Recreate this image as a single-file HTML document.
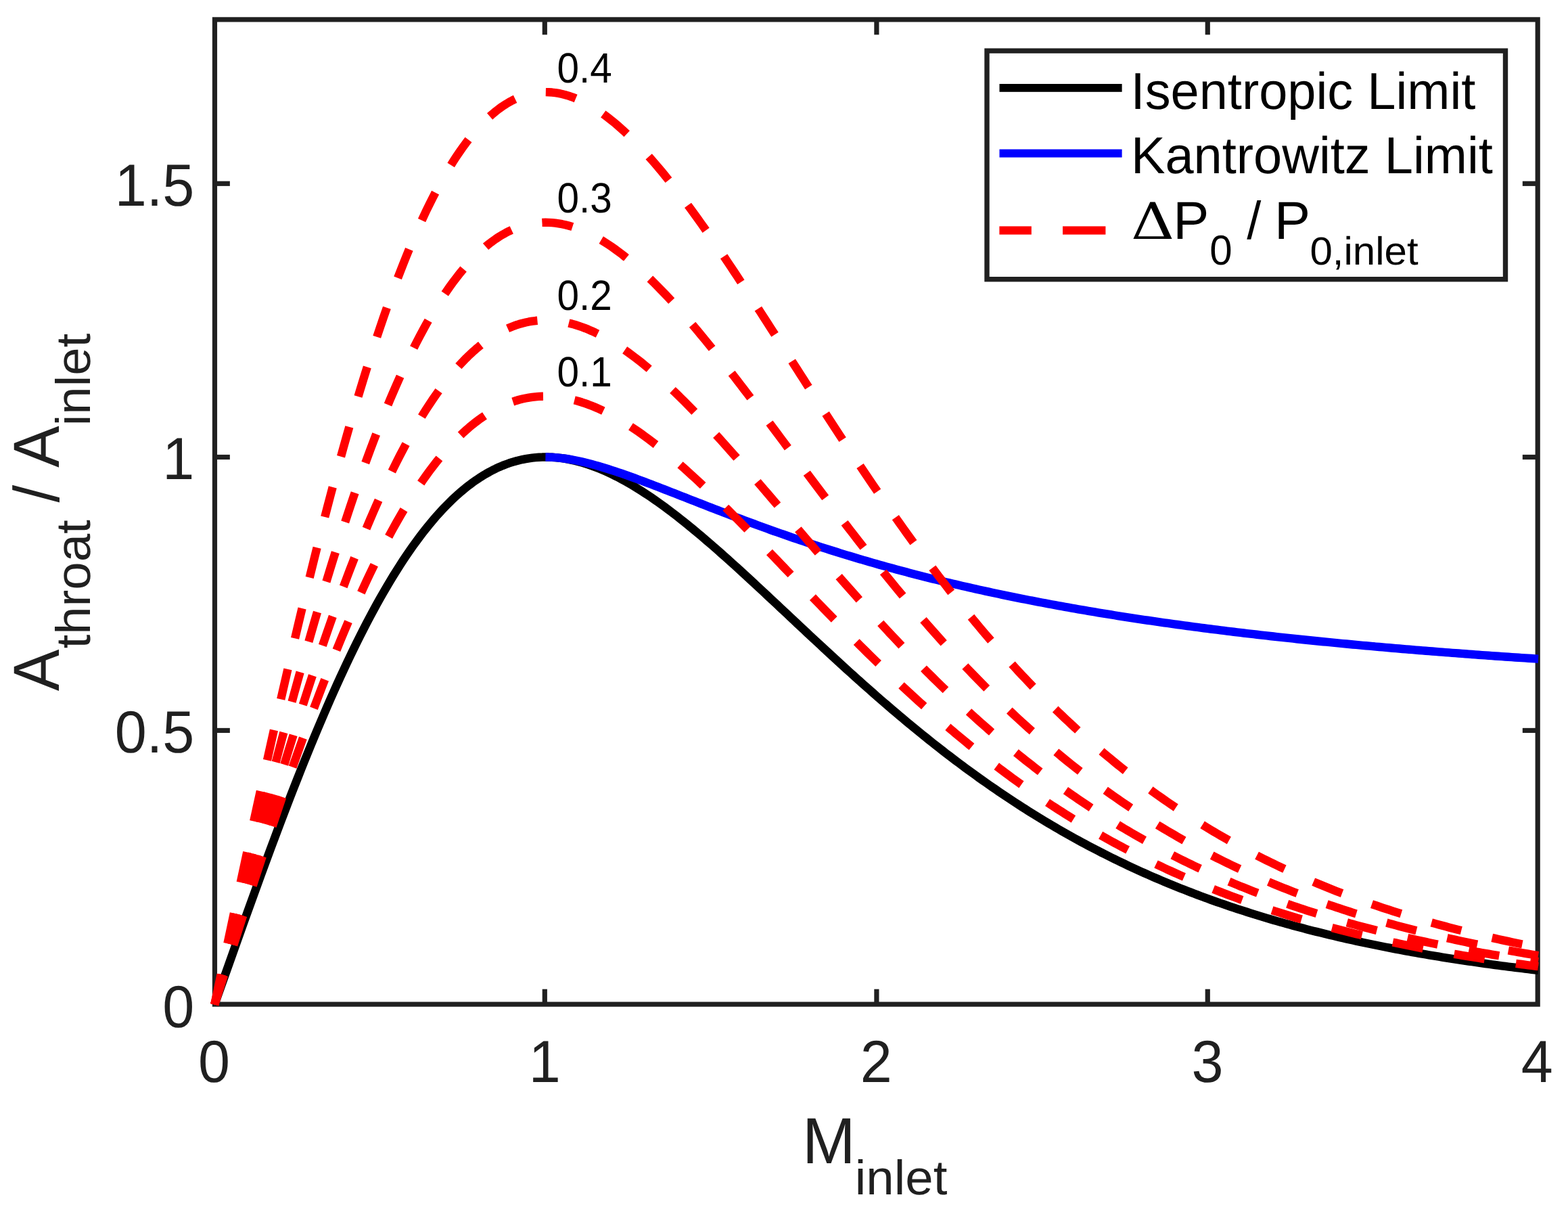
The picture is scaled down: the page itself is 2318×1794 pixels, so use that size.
<!DOCTYPE html>
<html lang="en"><head><meta charset="utf-8"><title>Inlet contraction limits</title>
<style>html,body{margin:0;padding:0;background:#fff;}body{width:2318px;height:1794px;overflow:hidden;}svg{display:block;}text{font-family:"Liberation Sans",Arial,Helvetica,sans-serif;font-kerning:none;text-rendering:geometricPrecision;white-space:pre;}</style>
</head><body>
<svg width="2318" height="1794" viewBox="0 0 2318 1794" role="img" aria-label="Throat to inlet area ratio versus inlet Mach number">
<rect x="0" y="0" width="2318" height="1794" fill="#ffffff"/>
<g stroke="#202020" stroke-width="7.20" fill="none" stroke-linecap="butt">
<rect x="317.45" y="28.90" width="1955.75" height="1455.20"/>
<line x1="805.30" y1="1484.10" x2="805.30" y2="1461.70"/>
<line x1="805.30" y1="28.90" x2="805.30" y2="51.30"/>
<line x1="1295.90" y1="1484.10" x2="1295.90" y2="1461.70"/>
<line x1="1295.90" y1="28.90" x2="1295.90" y2="51.30"/>
<line x1="1785.25" y1="1484.10" x2="1785.25" y2="1461.70"/>
<line x1="1785.25" y1="28.90" x2="1785.25" y2="51.30"/>
<line x1="317.45" y1="1079.45" x2="339.85" y2="1079.45"/>
<line x1="2273.20" y1="1079.45" x2="2250.80" y2="1079.45"/>
<line x1="317.45" y1="675.50" x2="339.85" y2="675.50"/>
<line x1="2273.20" y1="675.50" x2="2250.80" y2="675.50"/>
<line x1="317.45" y1="271.30" x2="339.85" y2="271.30"/>
<line x1="2273.20" y1="271.30" x2="2250.80" y2="271.30"/>
</g>
<g fill="none" stroke-width="12.40" stroke-linejoin="round" stroke-linecap="butt">
<path stroke="#000000" d="M317.20 1484.60 L322.09 1470.78 L326.98 1456.96 L331.88 1443.15 L336.77 1429.35 L341.66 1415.57 L346.55 1401.82 L351.44 1388.09 L356.34 1374.40 L361.23 1360.75 L366.12 1347.14 L371.01 1333.57 L375.90 1320.06 L380.80 1306.61 L385.69 1293.21 L390.58 1279.88 L395.47 1266.62 L400.36 1253.43 L405.26 1240.33 L410.15 1227.30 L415.04 1214.36 L419.93 1201.51 L424.82 1188.76 L429.72 1176.11 L434.61 1163.55 L439.50 1151.11 L444.39 1138.78 L449.28 1126.56 L454.18 1114.46 L459.07 1102.48 L463.96 1090.62 L468.85 1078.89 L473.74 1067.30 L478.64 1055.84 L483.53 1044.52 L488.42 1033.33 L493.31 1022.30 L498.20 1011.41 L503.10 1000.67 L507.99 990.08 L512.88 979.64 L517.77 969.37 L522.66 959.25 L527.56 949.29 L532.45 939.50 L537.34 929.88 L542.23 920.42 L547.12 911.14 L552.02 902.02 L556.91 893.08 L561.80 884.31 L566.69 875.72 L571.58 867.31 L576.48 859.08 L581.37 851.02 L586.26 843.15 L591.15 835.46 L596.04 827.95 L600.94 820.63 L605.83 813.49 L610.72 806.53 L615.61 799.76 L620.50 793.18 L625.40 786.78 L630.29 780.57 L635.18 774.54 L640.07 768.70 L644.96 763.05 L649.86 757.58 L654.75 752.30 L659.64 747.20 L664.53 742.29 L669.42 737.56 L674.32 733.02 L679.21 728.66 L684.10 724.48 L688.99 720.48 L693.88 716.66 L698.78 713.02 L703.67 709.56 L708.56 706.28 L713.45 703.17 L718.34 700.24 L723.24 697.48 L728.13 694.89 L733.02 692.47 L737.91 690.22 L742.80 688.14 L747.70 686.22 L752.59 684.47 L757.48 682.88 L762.37 681.45 L767.26 680.18 L772.16 679.07 L777.05 678.11 L781.94 677.30 L786.83 676.65 L791.72 676.14 L796.62 675.78 L801.51 675.57 L806.40 675.50 L811.29 675.57 L816.18 675.78 L821.08 676.12 L825.97 676.60 L830.86 677.21 L835.75 677.95 L840.64 678.82 L845.54 679.82 L850.43 680.93 L855.32 682.17 L860.21 683.53 L865.10 685.00 L870.00 686.58 L874.89 688.28 L879.78 690.08 L884.67 692.00 L889.56 694.01 L894.46 696.13 L899.35 698.35 L904.24 700.67 L909.13 703.08 L914.02 705.58 L918.92 708.17 L923.81 710.86 L928.70 713.63 L933.59 716.48 L938.48 719.41 L943.38 722.42 L948.27 725.51 L953.16 728.68 L958.05 731.91 L962.94 735.22 L967.84 738.60 L972.73 742.04 L977.62 745.54 L982.51 749.11 L987.40 752.73 L992.30 756.42 L997.19 760.16 L1002.08 763.95 L1006.97 767.80 L1011.86 771.69 L1016.76 775.63 L1021.65 779.62 L1026.54 783.65 L1031.43 787.72 L1036.32 791.83 L1041.22 795.98 L1046.11 800.17 L1051.00 804.39 L1055.89 808.65 L1060.78 812.93 L1065.68 817.25 L1070.57 821.59 L1075.46 825.96 L1080.35 830.35 L1085.24 834.76 L1090.14 839.20 L1095.03 843.66 L1099.92 848.13 L1104.81 852.63 L1109.70 857.13 L1114.60 861.65 L1119.49 866.19 L1124.38 870.73 L1129.27 875.29 L1134.16 879.85 L1139.06 884.42 L1143.95 889.00 L1148.84 893.58 L1153.73 898.17 L1158.62 902.75 L1163.52 907.34 L1168.41 911.93 L1173.30 916.52 L1178.19 921.11 L1183.08 925.69 L1187.98 930.27 L1192.87 934.85 L1197.76 939.41 L1202.65 943.98 L1207.54 948.53 L1212.44 953.08 L1217.33 957.61 L1222.22 962.14 L1227.11 966.65 L1232.00 971.16 L1236.90 975.65 L1241.79 980.12 L1246.68 984.59 L1251.57 989.04 L1256.46 993.47 L1261.36 997.89 L1266.25 1002.29 L1271.14 1006.67 L1276.03 1011.03 L1280.92 1015.38 L1285.82 1019.71 L1290.71 1024.02 L1295.60 1028.30 L1300.49 1032.57 L1305.38 1036.82 L1310.28 1041.04 L1315.17 1045.25 L1320.06 1049.43 L1324.95 1053.58 L1329.84 1057.72 L1334.74 1061.83 L1339.63 1065.92 L1344.52 1069.98 L1349.41 1074.02 L1354.30 1078.04 L1359.20 1082.03 L1364.09 1086.00 L1368.98 1089.93 L1373.87 1093.85 L1378.76 1097.74 L1383.66 1101.60 L1388.55 1105.43 L1393.44 1109.24 L1398.33 1113.03 L1403.22 1116.78 L1408.12 1120.51 L1413.01 1124.21 L1417.90 1127.89 L1422.79 1131.53 L1427.68 1135.15 L1432.58 1138.75 L1437.47 1142.31 L1442.36 1145.85 L1447.25 1149.36 L1452.14 1152.84 L1457.04 1156.29 L1461.93 1159.72 L1466.82 1163.11 L1471.71 1166.48 L1476.60 1169.83 L1481.50 1173.14 L1486.39 1176.43 L1491.28 1179.68 L1496.17 1182.92 L1501.06 1186.12 L1505.96 1189.29 L1510.85 1192.44 L1515.74 1195.56 L1520.63 1198.65 L1525.52 1201.72 L1530.42 1204.75 L1535.31 1207.76 L1540.20 1210.74 L1545.09 1213.70 L1549.98 1216.62 L1554.88 1219.53 L1559.77 1222.40 L1564.66 1225.25 L1569.55 1228.07 L1574.44 1230.86 L1579.34 1233.62 L1584.23 1236.36 L1589.12 1239.08 L1594.01 1241.77 L1598.90 1244.43 L1603.80 1247.06 L1608.69 1249.67 L1613.58 1252.26 L1618.47 1254.82 L1623.36 1257.35 L1628.26 1259.86 L1633.15 1262.34 L1638.04 1264.80 L1642.93 1267.23 L1647.82 1269.64 L1652.72 1272.03 L1657.61 1274.39 L1662.50 1276.72 L1667.39 1279.04 L1672.28 1281.32 L1677.18 1283.59 L1682.07 1285.83 L1686.96 1288.05 L1691.85 1290.24 L1696.74 1292.42 L1701.64 1294.57 L1706.53 1296.69 L1711.42 1298.80 L1716.31 1300.88 L1721.20 1302.94 L1726.10 1304.98 L1730.99 1306.99 L1735.88 1308.99 L1740.77 1310.96 L1745.66 1312.91 L1750.56 1314.84 L1755.45 1316.76 L1760.34 1318.65 L1765.23 1320.51 L1770.12 1322.36 L1775.02 1324.19 L1779.91 1326.00 L1784.80 1327.79 L1789.69 1329.56 L1794.58 1331.31 L1799.48 1333.04 L1804.37 1334.75 L1809.26 1336.45 L1814.15 1338.12 L1819.04 1339.78 L1823.94 1341.41 L1828.83 1343.03 L1833.72 1344.63 L1838.61 1346.22 L1843.50 1347.78 L1848.40 1349.33 L1853.29 1350.86 L1858.18 1352.38 L1863.07 1353.87 L1867.96 1355.35 L1872.86 1356.82 L1877.75 1358.26 L1882.64 1359.69 L1887.53 1361.11 L1892.42 1362.50 L1897.32 1363.89 L1902.21 1365.25 L1907.10 1366.60 L1911.99 1367.94 L1916.88 1369.26 L1921.78 1370.57 L1926.67 1371.86 L1931.56 1373.13 L1936.45 1374.39 L1941.34 1375.64 L1946.24 1376.87 L1951.13 1378.09 L1956.02 1379.30 L1960.91 1380.49 L1965.80 1381.66 L1970.70 1382.83 L1975.59 1383.98 L1980.48 1385.11 L1985.37 1386.24 L1990.26 1387.35 L1995.16 1388.45 L2000.05 1389.53 L2004.94 1390.60 L2009.83 1391.66 L2014.72 1392.71 L2019.62 1393.75 L2024.51 1394.77 L2029.40 1395.78 L2034.29 1396.78 L2039.18 1397.77 L2044.08 1398.75 L2048.97 1399.72 L2053.86 1400.67 L2058.75 1401.61 L2063.64 1402.55 L2068.54 1403.47 L2073.43 1404.38 L2078.32 1405.28 L2083.21 1406.17 L2088.10 1407.05 L2093.00 1407.92 L2097.89 1408.78 L2102.78 1409.63 L2107.67 1410.47 L2112.56 1411.30 L2117.46 1412.12 L2122.35 1412.93 L2127.24 1413.73 L2132.13 1414.52 L2137.02 1415.30 L2141.92 1416.07 L2146.81 1416.84 L2151.70 1417.59 L2156.59 1418.34 L2161.48 1419.08 L2166.38 1419.80 L2171.27 1420.52 L2176.16 1421.24 L2181.05 1421.94 L2185.94 1422.64 L2190.84 1423.32 L2195.73 1424.00 L2200.62 1424.67 L2205.51 1425.34 L2210.40 1425.99 L2215.30 1426.64 L2220.19 1427.28 L2225.08 1427.92 L2229.97 1428.54 L2234.86 1429.16 L2239.76 1429.77 L2244.65 1430.37 L2249.54 1430.97 L2254.43 1431.56 L2259.32 1432.15 L2264.22 1432.72 L2269.11 1433.29 L2274.00 1433.85"/>
<path stroke="#0000ff" d="M806.40 675.50 L811.29 675.57 L816.18 675.77 L821.08 676.10 L825.97 676.54 L830.86 677.09 L835.75 677.75 L840.64 678.50 L845.54 679.35 L850.43 680.28 L855.32 681.29 L860.21 682.38 L865.10 683.53 L870.00 684.75 L874.89 686.04 L879.78 687.38 L884.67 688.77 L889.56 690.21 L894.46 691.70 L899.35 693.23 L904.24 694.80 L909.13 696.41 L914.02 698.05 L918.92 699.73 L923.81 701.43 L928.70 703.16 L933.59 704.91 L938.48 706.69 L943.38 708.48 L948.27 710.30 L953.16 712.13 L958.05 713.97 L962.94 715.83 L967.84 717.70 L972.73 719.58 L977.62 721.47 L982.51 723.36 L987.40 725.26 L992.30 727.17 L997.19 729.08 L1002.08 731.00 L1006.97 732.91 L1011.86 734.83 L1016.76 736.75 L1021.65 738.66 L1026.54 740.58 L1031.43 742.49 L1036.32 744.40 L1041.22 746.31 L1046.11 748.21 L1051.00 750.11 L1055.89 752.01 L1060.78 753.89 L1065.68 755.78 L1070.57 757.65 L1075.46 759.52 L1080.35 761.38 L1085.24 763.24 L1090.14 765.08 L1095.03 766.92 L1099.92 768.75 L1104.81 770.57 L1109.70 772.38 L1114.60 774.18 L1119.49 775.98 L1124.38 777.76 L1129.27 779.53 L1134.16 781.29 L1139.06 783.05 L1143.95 784.79 L1148.84 786.52 L1153.73 788.24 L1158.62 789.95 L1163.52 791.65 L1168.41 793.34 L1173.30 795.02 L1178.19 796.68 L1183.08 798.34 L1187.98 799.98 L1192.87 801.61 L1197.76 803.23 L1202.65 804.84 L1207.54 806.44 L1212.44 808.03 L1217.33 809.61 L1222.22 811.17 L1227.11 812.72 L1232.00 814.26 L1236.90 815.79 L1241.79 817.31 L1246.68 818.82 L1251.57 820.32 L1256.46 821.80 L1261.36 823.28 L1266.25 824.74 L1271.14 826.19 L1276.03 827.63 L1280.92 829.06 L1285.82 830.48 L1290.71 831.88 L1295.60 833.28 L1300.49 834.66 L1305.38 836.04 L1310.28 837.40 L1315.17 838.75 L1320.06 840.10 L1324.95 841.43 L1329.84 842.75 L1334.74 844.06 L1339.63 845.36 L1344.52 846.65 L1349.41 847.93 L1354.30 849.20 L1359.20 850.45 L1364.09 851.70 L1368.98 852.94 L1373.87 854.17 L1378.76 855.39 L1383.66 856.60 L1388.55 857.80 L1393.44 858.99 L1398.33 860.17 L1403.22 861.34 L1408.12 862.50 L1413.01 863.65 L1417.90 864.79 L1422.79 865.92 L1427.68 867.05 L1432.58 868.16 L1437.47 869.27 L1442.36 870.36 L1447.25 871.45 L1452.14 872.53 L1457.04 873.60 L1461.93 874.66 L1466.82 875.71 L1471.71 876.76 L1476.60 877.79 L1481.50 878.82 L1486.39 879.84 L1491.28 880.85 L1496.17 881.85 L1501.06 882.85 L1505.96 883.84 L1510.85 884.81 L1515.74 885.78 L1520.63 886.75 L1525.52 887.70 L1530.42 888.65 L1535.31 889.59 L1540.20 890.52 L1545.09 891.45 L1549.98 892.36 L1554.88 893.27 L1559.77 894.18 L1564.66 895.07 L1569.55 895.96 L1574.44 896.84 L1579.34 897.72 L1584.23 898.58 L1589.12 899.44 L1594.01 900.30 L1598.90 901.14 L1603.80 901.98 L1608.69 902.82 L1613.58 903.64 L1618.47 904.46 L1623.36 905.28 L1628.26 906.09 L1633.15 906.89 L1638.04 907.68 L1642.93 908.47 L1647.82 909.25 L1652.72 910.03 L1657.61 910.80 L1662.50 911.56 L1667.39 912.32 L1672.28 913.07 L1677.18 913.82 L1682.07 914.56 L1686.96 915.29 L1691.85 916.02 L1696.74 916.75 L1701.64 917.46 L1706.53 918.18 L1711.42 918.88 L1716.31 919.58 L1721.20 920.28 L1726.10 920.97 L1730.99 921.66 L1735.88 922.34 L1740.77 923.01 L1745.66 923.68 L1750.56 924.35 L1755.45 925.01 L1760.34 925.66 L1765.23 926.31 L1770.12 926.96 L1775.02 927.59 L1779.91 928.23 L1784.80 928.86 L1789.69 929.49 L1794.58 930.11 L1799.48 930.72 L1804.37 931.33 L1809.26 931.94 L1814.15 932.54 L1819.04 933.14 L1823.94 933.74 L1828.83 934.32 L1833.72 934.91 L1838.61 935.49 L1843.50 936.07 L1848.40 936.64 L1853.29 937.21 L1858.18 937.77 L1863.07 938.33 L1867.96 938.88 L1872.86 939.44 L1877.75 939.98 L1882.64 940.53 L1887.53 941.06 L1892.42 941.60 L1897.32 942.13 L1902.21 942.66 L1907.10 943.18 L1911.99 943.70 L1916.88 944.22 L1921.78 944.73 L1926.67 945.24 L1931.56 945.75 L1936.45 946.25 L1941.34 946.75 L1946.24 947.24 L1951.13 947.73 L1956.02 948.22 L1960.91 948.70 L1965.80 949.18 L1970.70 949.66 L1975.59 950.14 L1980.48 950.61 L1985.37 951.07 L1990.26 951.54 L1995.16 952.00 L2000.05 952.46 L2004.94 952.91 L2009.83 953.36 L2014.72 953.81 L2019.62 954.25 L2024.51 954.70 L2029.40 955.13 L2034.29 955.57 L2039.18 956.00 L2044.08 956.43 L2048.97 956.86 L2053.86 957.28 L2058.75 957.70 L2063.64 958.12 L2068.54 958.54 L2073.43 958.95 L2078.32 959.36 L2083.21 959.77 L2088.10 960.17 L2093.00 960.57 L2097.89 960.97 L2102.78 961.37 L2107.67 961.76 L2112.56 962.15 L2117.46 962.54 L2122.35 962.92 L2127.24 963.31 L2132.13 963.69 L2137.02 964.06 L2141.92 964.44 L2146.81 964.81 L2151.70 965.18 L2156.59 965.55 L2161.48 965.92 L2166.38 966.28 L2171.27 966.64 L2176.16 967.00 L2181.05 967.35 L2185.94 967.71 L2190.84 968.06 L2195.73 968.41 L2200.62 968.75 L2205.51 969.10 L2210.40 969.44 L2215.30 969.78 L2220.19 970.12 L2225.08 970.45 L2229.97 970.79 L2234.86 971.12 L2239.76 971.45 L2244.65 971.78 L2249.54 972.10 L2254.43 972.42 L2259.32 972.74 L2264.22 973.06 L2269.11 973.38 L2274.00 973.69"/>
<path stroke="#ff0000" stroke-dasharray="45.60 46.76" d="M317.20 1484.60 L322.09 1469.24 L326.98 1453.88 L331.88 1438.54 L336.77 1423.21 L341.66 1407.90 L346.55 1392.62 L351.44 1377.37 L356.34 1362.16 L361.23 1346.99 L366.12 1331.86 L371.01 1316.79 L375.90 1301.78 L380.80 1286.83 L385.69 1271.95 L390.58 1257.13 L395.47 1242.40 L400.36 1227.75 L405.26 1213.18 L410.15 1198.71 L415.04 1184.33 L419.93 1170.06 L424.82 1155.89 L429.72 1141.83 L434.61 1127.88 L439.50 1114.06 L444.39 1100.35 L449.28 1086.77 L454.18 1073.33 L459.07 1060.02 L463.96 1046.84 L468.85 1033.81 L473.74 1020.93 L478.64 1008.20 L483.53 995.62 L488.42 983.19 L493.31 970.93 L498.20 958.83 L503.10 946.90 L507.99 935.13 L512.88 923.54 L517.77 912.12 L522.66 900.88 L527.56 889.82 L532.45 878.94 L537.34 868.24 L542.23 857.74 L547.12 847.42 L552.02 837.29 L556.91 827.35 L561.80 817.61 L566.69 808.07 L571.58 798.72 L576.48 789.57 L581.37 780.62 L586.26 771.88 L591.15 763.33 L596.04 754.99 L600.94 746.85 L605.83 738.92 L610.72 731.19 L615.61 723.67 L620.50 716.35 L625.40 709.25 L630.29 702.34 L635.18 695.65 L640.07 689.16 L644.96 682.88 L649.86 676.80 L654.75 670.93 L659.64 665.27 L664.53 659.81 L669.42 654.56 L674.32 649.51 L679.21 644.66 L684.10 640.02 L688.99 635.58 L693.88 631.33 L698.78 627.29 L703.67 623.44 L708.56 619.80 L713.45 616.34 L718.34 613.08 L723.24 610.02 L728.13 607.14 L733.02 604.45 L737.91 601.96 L742.80 599.64 L747.70 597.51 L752.59 595.57 L757.48 593.80 L762.37 592.21 L767.26 590.80 L772.16 589.56 L777.05 588.50 L781.94 587.60 L786.83 586.88 L791.72 586.31 L796.62 585.92 L801.51 585.68 L806.40 585.60 L811.29 585.68 L816.18 585.91 L821.08 586.29 L825.97 586.83 L830.86 587.50 L835.75 588.33 L840.64 589.29 L845.54 590.40 L850.43 591.64 L855.32 593.01 L860.21 594.52 L865.10 596.15 L870.00 597.91 L874.89 599.80 L879.78 601.80 L884.67 603.93 L889.56 606.17 L894.46 608.52 L899.35 610.99 L904.24 613.56 L909.13 616.24 L914.02 619.02 L918.92 621.91 L923.81 624.89 L928.70 627.96 L933.59 631.13 L938.48 634.39 L943.38 637.74 L948.27 641.17 L953.16 644.69 L958.05 648.28 L962.94 651.96 L967.84 655.71 L972.73 659.53 L977.62 663.42 L982.51 667.39 L987.40 671.42 L992.30 675.51 L997.19 679.66 L1002.08 683.88 L1006.97 688.15 L1011.86 692.48 L1016.76 696.86 L1021.65 701.29 L1026.54 705.76 L1031.43 710.29 L1036.32 714.86 L1041.22 719.47 L1046.11 724.12 L1051.00 728.81 L1055.89 733.54 L1060.78 738.30 L1065.68 743.09 L1070.57 747.92 L1075.46 752.77 L1080.35 757.65 L1085.24 762.56 L1090.14 767.49 L1095.03 772.44 L1099.92 777.41 L1104.81 782.41 L1109.70 787.41 L1114.60 792.44 L1119.49 797.48 L1124.38 802.53 L1129.27 807.59 L1134.16 812.66 L1139.06 817.74 L1143.95 822.82 L1148.84 827.91 L1153.73 833.01 L1158.62 838.10 L1163.52 843.20 L1168.41 848.30 L1173.30 853.40 L1178.19 858.50 L1183.08 863.59 L1187.98 868.68 L1192.87 873.76 L1197.76 878.84 L1202.65 883.91 L1207.54 888.97 L1212.44 894.02 L1217.33 899.06 L1222.22 904.09 L1227.11 909.10 L1232.00 914.11 L1236.90 919.10 L1241.79 924.07 L1246.68 929.03 L1251.57 933.97 L1256.46 938.90 L1261.36 943.81 L1266.25 948.70 L1271.14 953.57 L1276.03 958.41 L1280.92 963.24 L1285.82 968.05 L1290.71 972.84 L1295.60 977.60 L1300.49 982.35 L1305.38 987.06 L1310.28 991.76 L1315.17 996.43 L1320.06 1001.07 L1324.95 1005.69 L1329.84 1010.29 L1334.74 1014.86 L1339.63 1019.40 L1344.52 1023.92 L1349.41 1028.41 L1354.30 1032.87 L1359.20 1037.30 L1364.09 1041.71 L1368.98 1046.08 L1373.87 1050.43 L1378.76 1054.75 L1383.66 1059.04 L1388.55 1063.31 L1393.44 1067.54 L1398.33 1071.74 L1403.22 1075.91 L1408.12 1080.06 L1413.01 1084.17 L1417.90 1088.25 L1422.79 1092.30 L1427.68 1096.33 L1432.58 1100.32 L1437.47 1104.28 L1442.36 1108.21 L1447.25 1112.11 L1452.14 1115.97 L1457.04 1119.81 L1461.93 1123.62 L1466.82 1127.39 L1471.71 1131.14 L1476.60 1134.85 L1481.50 1138.53 L1486.39 1142.18 L1491.28 1145.81 L1496.17 1149.39 L1501.06 1152.95 L1505.96 1156.48 L1510.85 1159.98 L1515.74 1163.44 L1520.63 1166.88 L1525.52 1170.28 L1530.42 1173.66 L1535.31 1177.00 L1540.20 1180.31 L1545.09 1183.60 L1549.98 1186.85 L1554.88 1190.07 L1559.77 1193.27 L1564.66 1196.43 L1569.55 1199.56 L1574.44 1202.66 L1579.34 1205.74 L1584.23 1208.78 L1589.12 1211.80 L1594.01 1214.78 L1598.90 1217.74 L1603.80 1220.67 L1608.69 1223.57 L1613.58 1226.44 L1618.47 1229.29 L1623.36 1232.10 L1628.26 1234.89 L1633.15 1237.65 L1638.04 1240.38 L1642.93 1243.08 L1647.82 1245.76 L1652.72 1248.41 L1657.61 1251.03 L1662.50 1253.63 L1667.39 1256.20 L1672.28 1258.74 L1677.18 1261.25 L1682.07 1263.74 L1686.96 1266.21 L1691.85 1268.65 L1696.74 1271.06 L1701.64 1273.45 L1706.53 1275.81 L1711.42 1278.15 L1716.31 1280.46 L1721.20 1282.75 L1726.10 1285.02 L1730.99 1287.26 L1735.88 1289.48 L1740.77 1291.67 L1745.66 1293.84 L1750.56 1295.98 L1755.45 1298.11 L1760.34 1300.21 L1765.23 1302.28 L1770.12 1304.34 L1775.02 1306.37 L1779.91 1308.38 L1784.80 1310.37 L1789.69 1312.33 L1794.58 1314.28 L1799.48 1316.20 L1804.37 1318.10 L1809.26 1319.98 L1814.15 1321.85 L1819.04 1323.69 L1823.94 1325.50 L1828.83 1327.30 L1833.72 1329.08 L1838.61 1330.84 L1843.50 1332.58 L1848.40 1334.30 L1853.29 1336.00 L1858.18 1337.68 L1863.07 1339.35 L1867.96 1340.99 L1872.86 1342.62 L1877.75 1344.22 L1882.64 1345.81 L1887.53 1347.39 L1892.42 1348.94 L1897.32 1350.47 L1902.21 1351.99 L1907.10 1353.49 L1911.99 1354.98 L1916.88 1356.45 L1921.78 1357.90 L1926.67 1359.33 L1931.56 1360.75 L1936.45 1362.15 L1941.34 1363.53 L1946.24 1364.90 L1951.13 1366.26 L1956.02 1367.60 L1960.91 1368.92 L1965.80 1370.23 L1970.70 1371.52 L1975.59 1372.80 L1980.48 1374.06 L1985.37 1375.31 L1990.26 1376.54 L1995.16 1377.76 L2000.05 1378.97 L2004.94 1380.16 L2009.83 1381.34 L2014.72 1382.50 L2019.62 1383.65 L2024.51 1384.79 L2029.40 1385.92 L2034.29 1387.03 L2039.18 1388.13 L2044.08 1389.21 L2048.97 1390.28 L2053.86 1391.35 L2058.75 1392.39 L2063.64 1393.43 L2068.54 1394.45 L2073.43 1395.47 L2078.32 1396.47 L2083.21 1397.45 L2088.10 1398.43 L2093.00 1399.40 L2097.89 1400.35 L2102.78 1401.30 L2107.67 1402.23 L2112.56 1403.15 L2117.46 1404.06 L2122.35 1404.96 L2127.24 1405.85 L2132.13 1406.73 L2137.02 1407.60 L2141.92 1408.46 L2146.81 1409.31 L2151.70 1410.15 L2156.59 1410.98 L2161.48 1411.80 L2166.38 1412.61 L2171.27 1413.41 L2176.16 1414.20 L2181.05 1414.98 L2185.94 1415.75 L2190.84 1416.52 L2195.73 1417.27 L2200.62 1418.02 L2205.51 1418.75 L2210.40 1419.48 L2215.30 1420.20 L2220.19 1420.91 L2225.08 1421.62 L2229.97 1422.31 L2234.86 1423.00 L2239.76 1423.68 L2244.65 1424.35 L2249.54 1425.01 L2254.43 1425.67 L2259.32 1426.32 L2264.22 1426.96 L2269.11 1427.59 L2274.00 1428.22"/>
<path stroke="#ff0000" stroke-dasharray="45.60 46.76" d="M317.20 1484.60 L322.09 1467.32 L326.98 1450.04 L331.88 1432.78 L336.77 1415.54 L341.66 1398.32 L346.55 1381.12 L351.44 1363.97 L356.34 1346.85 L361.23 1329.79 L366.12 1312.77 L371.01 1295.82 L375.90 1278.93 L380.80 1262.11 L385.69 1245.36 L390.58 1228.70 L395.47 1212.12 L400.36 1195.64 L405.26 1179.26 L410.15 1162.97 L415.04 1146.80 L419.93 1130.74 L424.82 1114.80 L429.72 1098.98 L434.61 1083.29 L439.50 1067.74 L444.39 1052.32 L449.28 1037.05 L454.18 1021.92 L459.07 1006.94 L463.96 992.13 L468.85 977.47 L473.74 962.97 L478.64 948.65 L483.53 934.49 L488.42 920.52 L493.31 906.72 L498.20 893.11 L503.10 879.68 L507.99 866.45 L512.88 853.40 L517.77 840.56 L522.66 827.91 L527.56 815.47 L532.45 803.23 L537.34 791.20 L542.23 779.38 L547.12 767.77 L552.02 756.38 L556.91 745.20 L561.80 734.24 L566.69 723.50 L571.58 712.99 L576.48 702.69 L581.37 692.63 L586.26 682.79 L591.15 673.17 L596.04 663.79 L600.94 654.63 L605.83 645.71 L610.72 637.02 L615.61 628.55 L620.50 620.32 L625.40 612.33 L630.29 604.56 L635.18 597.03 L640.07 589.73 L644.96 582.66 L649.86 575.83 L654.75 569.23 L659.64 562.86 L664.53 556.71 L669.42 550.80 L674.32 545.12 L679.21 539.67 L684.10 534.45 L688.99 529.45 L693.88 524.68 L698.78 520.13 L703.67 515.80 L708.56 511.70 L713.45 507.81 L718.34 504.14 L723.24 500.69 L728.13 497.46 L733.02 494.44 L737.91 491.62 L742.80 489.02 L747.70 486.63 L752.59 484.44 L757.48 482.45 L762.37 480.66 L767.26 479.08 L772.16 477.68 L777.05 476.49 L781.94 475.48 L786.83 474.66 L791.72 474.03 L796.62 473.58 L801.51 473.31 L806.40 473.22 L811.29 473.31 L816.18 473.57 L821.08 474.00 L825.97 474.60 L830.86 475.37 L835.75 476.29 L840.64 477.38 L845.54 478.62 L850.43 480.02 L855.32 481.56 L860.21 483.26 L865.10 485.10 L870.00 487.08 L874.89 489.20 L879.78 491.45 L884.67 493.84 L889.56 496.37 L894.46 499.01 L899.35 501.79 L904.24 504.68 L909.13 507.70 L914.02 510.83 L918.92 514.07 L923.81 517.42 L928.70 520.88 L933.59 524.45 L938.48 528.11 L943.38 531.88 L948.27 535.74 L953.16 539.70 L958.05 543.74 L962.94 547.88 L967.84 552.10 L972.73 556.40 L977.62 560.78 L982.51 565.24 L987.40 569.77 L992.30 574.37 L997.19 579.05 L1002.08 583.79 L1006.97 588.59 L1011.86 593.46 L1016.76 598.39 L1021.65 603.37 L1026.54 608.41 L1031.43 613.50 L1036.32 618.64 L1041.22 623.83 L1046.11 629.06 L1051.00 634.34 L1055.89 639.66 L1060.78 645.01 L1065.68 650.41 L1070.57 655.83 L1075.46 661.29 L1080.35 666.79 L1085.24 672.31 L1090.14 677.85 L1095.03 683.42 L1099.92 689.02 L1104.81 694.63 L1109.70 700.27 L1114.60 705.92 L1119.49 711.58 L1124.38 717.27 L1129.27 722.96 L1134.16 728.66 L1139.06 734.38 L1143.95 740.10 L1148.84 745.83 L1153.73 751.56 L1158.62 757.29 L1163.52 763.03 L1168.41 768.77 L1173.30 774.50 L1178.19 780.23 L1183.08 785.96 L1187.98 791.69 L1192.87 797.41 L1197.76 803.12 L1202.65 808.82 L1207.54 814.51 L1212.44 820.20 L1217.33 825.87 L1222.22 831.52 L1227.11 837.17 L1232.00 842.80 L1236.90 848.41 L1241.79 854.01 L1246.68 859.58 L1251.57 865.15 L1256.46 870.69 L1261.36 876.21 L1266.25 881.71 L1271.14 887.19 L1276.03 892.64 L1280.92 898.07 L1285.82 903.48 L1290.71 908.87 L1295.60 914.23 L1300.49 919.56 L1305.38 924.87 L1310.28 930.15 L1315.17 935.41 L1320.06 940.63 L1324.95 945.83 L1329.84 951.00 L1334.74 956.14 L1339.63 961.25 L1344.52 966.33 L1349.41 971.38 L1354.30 976.40 L1359.20 981.39 L1364.09 986.34 L1368.98 991.27 L1373.87 996.16 L1378.76 1001.02 L1383.66 1005.85 L1388.55 1010.64 L1393.44 1015.40 L1398.33 1020.13 L1403.22 1024.83 L1408.12 1029.49 L1413.01 1034.12 L1417.90 1038.71 L1422.79 1043.27 L1427.68 1047.79 L1432.58 1052.28 L1437.47 1056.74 L1442.36 1061.16 L1447.25 1065.55 L1452.14 1069.90 L1457.04 1074.21 L1461.93 1078.50 L1466.82 1082.74 L1471.71 1086.96 L1476.60 1091.13 L1481.50 1095.28 L1486.39 1099.38 L1491.28 1103.46 L1496.17 1107.49 L1501.06 1111.50 L1505.96 1115.47 L1510.85 1119.40 L1515.74 1123.30 L1520.63 1127.16 L1525.52 1130.99 L1530.42 1134.79 L1535.31 1138.55 L1540.20 1142.28 L1545.09 1145.97 L1549.98 1149.63 L1554.88 1153.26 L1559.77 1156.85 L1564.66 1160.41 L1569.55 1163.93 L1574.44 1167.42 L1579.34 1170.88 L1584.23 1174.31 L1589.12 1177.70 L1594.01 1181.06 L1598.90 1184.38 L1603.80 1187.68 L1608.69 1190.94 L1613.58 1194.17 L1618.47 1197.37 L1623.36 1200.54 L1628.26 1203.67 L1633.15 1206.78 L1638.04 1209.85 L1642.93 1212.89 L1647.82 1215.90 L1652.72 1218.88 L1657.61 1221.83 L1662.50 1224.75 L1667.39 1227.64 L1672.28 1230.51 L1677.18 1233.34 L1682.07 1236.14 L1686.96 1238.91 L1691.85 1241.65 L1696.74 1244.37 L1701.64 1247.06 L1706.53 1249.71 L1711.42 1252.35 L1716.31 1254.95 L1721.20 1257.52 L1726.10 1260.07 L1730.99 1262.59 L1735.88 1265.08 L1740.77 1267.55 L1745.66 1269.99 L1750.56 1272.41 L1755.45 1274.79 L1760.34 1277.16 L1765.23 1279.49 L1770.12 1281.80 L1775.02 1284.09 L1779.91 1286.35 L1784.80 1288.59 L1789.69 1290.80 L1794.58 1292.99 L1799.48 1295.15 L1804.37 1297.29 L1809.26 1299.41 L1814.15 1301.50 L1819.04 1303.57 L1823.94 1305.62 L1828.83 1307.64 L1833.72 1309.64 L1838.61 1311.62 L1843.50 1313.58 L1848.40 1315.51 L1853.29 1317.43 L1858.18 1319.32 L1863.07 1321.19 L1867.96 1323.04 L1872.86 1324.87 L1877.75 1326.68 L1882.64 1328.47 L1887.53 1330.23 L1892.42 1331.98 L1897.32 1333.71 L1902.21 1335.42 L1907.10 1337.11 L1911.99 1338.78 L1916.88 1340.43 L1921.78 1342.06 L1926.67 1343.67 L1931.56 1345.27 L1936.45 1346.84 L1941.34 1348.40 L1946.24 1349.94 L1951.13 1351.46 L1956.02 1352.97 L1960.91 1354.46 L1965.80 1355.93 L1970.70 1357.38 L1975.59 1358.82 L1980.48 1360.24 L1985.37 1361.65 L1990.26 1363.04 L1995.16 1364.41 L2000.05 1365.76 L2004.94 1367.11 L2009.83 1368.43 L2014.72 1369.74 L2019.62 1371.04 L2024.51 1372.32 L2029.40 1373.58 L2034.29 1374.83 L2039.18 1376.07 L2044.08 1377.29 L2048.97 1378.49 L2053.86 1379.69 L2058.75 1380.87 L2063.64 1382.03 L2068.54 1383.19 L2073.43 1384.32 L2078.32 1385.45 L2083.21 1386.56 L2088.10 1387.66 L2093.00 1388.75 L2097.89 1389.82 L2102.78 1390.88 L2107.67 1391.93 L2112.56 1392.97 L2117.46 1393.99 L2122.35 1395.01 L2127.24 1396.01 L2132.13 1397.00 L2137.02 1397.97 L2141.92 1398.94 L2146.81 1399.90 L2151.70 1400.84 L2156.59 1401.77 L2161.48 1402.69 L2166.38 1403.61 L2171.27 1404.51 L2176.16 1405.40 L2181.05 1406.28 L2185.94 1407.15 L2190.84 1408.00 L2195.73 1408.85 L2200.62 1409.69 L2205.51 1410.52 L2210.40 1411.34 L2215.30 1412.15 L2220.19 1412.95 L2225.08 1413.74 L2229.97 1414.53 L2234.86 1415.30 L2239.76 1416.06 L2244.65 1416.82 L2249.54 1417.56 L2254.43 1418.30 L2259.32 1419.03 L2264.22 1419.75 L2269.11 1420.46 L2274.00 1421.17"/>
<path stroke="#ff0000" stroke-dasharray="45.60 46.76" d="M317.20 1484.60 L322.09 1464.85 L326.98 1445.11 L331.88 1425.38 L336.77 1405.67 L341.66 1385.99 L346.55 1366.34 L351.44 1346.73 L356.34 1327.18 L361.23 1307.67 L366.12 1288.23 L371.01 1268.85 L375.90 1249.55 L380.80 1230.32 L385.69 1211.19 L390.58 1192.14 L395.47 1173.20 L400.36 1154.36 L405.26 1135.64 L410.15 1117.03 L415.04 1098.54 L419.93 1080.19 L424.82 1061.97 L429.72 1043.89 L434.61 1025.96 L439.50 1008.19 L444.39 990.57 L449.28 973.11 L454.18 955.82 L459.07 938.71 L463.96 921.77 L468.85 905.02 L473.74 888.45 L478.64 872.08 L483.53 855.91 L488.42 839.93 L493.31 824.17 L498.20 808.61 L503.10 793.27 L507.99 778.14 L512.88 763.23 L517.77 748.55 L522.66 734.10 L527.56 719.88 L532.45 705.89 L537.34 692.14 L542.23 678.63 L547.12 665.37 L552.02 652.34 L556.91 639.57 L561.80 627.05 L566.69 614.77 L571.58 602.76 L576.48 590.99 L581.37 579.49 L586.26 568.24 L591.15 557.25 L596.04 546.53 L600.94 536.07 L605.83 525.87 L610.72 515.93 L615.61 506.26 L620.50 496.86 L625.40 487.72 L630.29 478.84 L635.18 470.23 L640.07 461.89 L644.96 453.82 L649.86 446.00 L654.75 438.46 L659.64 431.18 L664.53 424.16 L669.42 417.40 L674.32 410.91 L679.21 404.68 L684.10 398.71 L688.99 393.00 L693.88 387.54 L698.78 382.34 L703.67 377.40 L708.56 372.71 L713.45 368.27 L718.34 364.08 L723.24 360.14 L728.13 356.44 L733.02 352.98 L737.91 349.77 L742.80 346.80 L747.70 344.06 L752.59 341.56 L757.48 339.29 L762.37 337.24 L767.26 335.43 L772.16 333.84 L777.05 332.47 L781.94 331.32 L786.83 330.38 L791.72 329.66 L796.62 329.15 L801.51 328.84 L806.40 328.74 L811.29 328.84 L816.18 329.14 L821.08 329.63 L825.97 330.32 L830.86 331.19 L835.75 332.25 L840.64 333.49 L845.54 334.91 L850.43 336.50 L855.32 338.27 L860.21 340.21 L865.10 342.31 L870.00 344.57 L874.89 347.00 L879.78 349.58 L884.67 352.31 L889.56 355.19 L894.46 358.22 L899.35 361.39 L904.24 364.69 L909.13 368.14 L914.02 371.71 L918.92 375.42 L923.81 379.25 L928.70 383.21 L933.59 387.28 L938.48 391.47 L943.38 395.78 L948.27 400.19 L953.16 404.71 L958.05 409.33 L962.94 414.06 L967.84 418.88 L972.73 423.80 L977.62 428.80 L982.51 433.90 L987.40 439.08 L992.30 444.34 L997.19 449.68 L1002.08 455.10 L1006.97 460.59 L1011.86 466.16 L1016.76 471.79 L1021.65 477.48 L1026.54 483.24 L1031.43 489.06 L1036.32 494.93 L1041.22 500.86 L1046.11 506.84 L1051.00 512.87 L1055.89 518.95 L1060.78 525.07 L1065.68 531.24 L1070.57 537.44 L1075.46 543.68 L1080.35 549.96 L1085.24 556.26 L1090.14 562.60 L1095.03 568.97 L1099.92 575.36 L1104.81 581.78 L1109.70 588.22 L1114.60 594.68 L1119.49 601.15 L1124.38 607.65 L1129.27 614.15 L1134.16 620.67 L1139.06 627.20 L1143.95 633.74 L1148.84 640.29 L1153.73 646.84 L1158.62 653.39 L1163.52 659.95 L1168.41 666.50 L1173.30 673.06 L1178.19 679.61 L1183.08 686.16 L1187.98 692.70 L1192.87 699.24 L1197.76 705.76 L1202.65 712.28 L1207.54 718.79 L1212.44 725.28 L1217.33 731.76 L1222.22 738.23 L1227.11 744.68 L1232.00 751.11 L1236.90 757.53 L1241.79 763.92 L1246.68 770.30 L1251.57 776.65 L1256.46 782.98 L1261.36 789.29 L1266.25 795.58 L1271.14 801.84 L1276.03 808.08 L1280.92 814.29 L1285.82 820.47 L1290.71 826.62 L1295.60 832.75 L1300.49 838.84 L1305.38 844.91 L1310.28 850.95 L1315.17 856.95 L1320.06 862.92 L1324.95 868.86 L1329.84 874.77 L1334.74 880.65 L1339.63 886.49 L1344.52 892.29 L1349.41 898.06 L1354.30 903.80 L1359.20 909.50 L1364.09 915.16 L1368.98 920.79 L1373.87 926.38 L1378.76 931.94 L1383.66 937.46 L1388.55 942.94 L1393.44 948.38 L1398.33 953.78 L1403.22 959.15 L1408.12 964.47 L1413.01 969.76 L1417.90 975.01 L1422.79 980.22 L1427.68 985.39 L1432.58 990.52 L1437.47 995.61 L1442.36 1000.67 L1447.25 1005.68 L1452.14 1010.65 L1457.04 1015.59 L1461.93 1020.48 L1466.82 1025.33 L1471.71 1030.15 L1476.60 1034.92 L1481.50 1039.66 L1486.39 1044.35 L1491.28 1049.01 L1496.17 1053.62 L1501.06 1058.20 L1505.96 1062.73 L1510.85 1067.23 L1515.74 1071.68 L1520.63 1076.10 L1525.52 1080.48 L1530.42 1084.82 L1535.31 1089.12 L1540.20 1093.38 L1545.09 1097.60 L1549.98 1101.78 L1554.88 1105.92 L1559.77 1110.03 L1564.66 1114.09 L1569.55 1118.12 L1574.44 1122.11 L1579.34 1126.06 L1584.23 1129.98 L1589.12 1133.86 L1594.01 1137.69 L1598.90 1141.50 L1603.80 1145.26 L1608.69 1148.99 L1613.58 1152.68 L1618.47 1156.34 L1623.36 1159.96 L1628.26 1163.54 L1633.15 1167.09 L1638.04 1170.60 L1642.93 1174.08 L1647.82 1177.52 L1652.72 1180.92 L1657.61 1184.30 L1662.50 1187.63 L1667.39 1190.94 L1672.28 1194.21 L1677.18 1197.44 L1682.07 1200.64 L1686.96 1203.81 L1691.85 1206.95 L1696.74 1210.05 L1701.64 1213.12 L1706.53 1216.16 L1711.42 1219.17 L1716.31 1222.14 L1721.20 1225.08 L1726.10 1227.99 L1730.99 1230.88 L1735.88 1233.73 L1740.77 1236.54 L1745.66 1239.33 L1750.56 1242.09 L1755.45 1244.82 L1760.34 1247.52 L1765.23 1250.19 L1770.12 1252.83 L1775.02 1255.45 L1779.91 1258.03 L1784.80 1260.59 L1789.69 1263.11 L1794.58 1265.62 L1799.48 1268.09 L1804.37 1270.53 L1809.26 1272.95 L1814.15 1275.34 L1819.04 1277.71 L1823.94 1280.05 L1828.83 1282.36 L1833.72 1284.65 L1838.61 1286.91 L1843.50 1289.15 L1848.40 1291.36 L1853.29 1293.55 L1858.18 1295.71 L1863.07 1297.85 L1867.96 1299.96 L1872.86 1302.05 L1877.75 1304.12 L1882.64 1306.16 L1887.53 1308.18 L1892.42 1310.18 L1897.32 1312.15 L1902.21 1314.11 L1907.10 1316.04 L1911.99 1317.94 L1916.88 1319.83 L1921.78 1321.69 L1926.67 1323.54 L1931.56 1325.36 L1936.45 1327.16 L1941.34 1328.94 L1946.24 1330.70 L1951.13 1332.45 L1956.02 1334.17 L1960.91 1335.87 L1965.80 1337.55 L1970.70 1339.21 L1975.59 1340.85 L1980.48 1342.48 L1985.37 1344.08 L1990.26 1345.67 L1995.16 1347.24 L2000.05 1348.79 L2004.94 1350.32 L2009.83 1351.83 L2014.72 1353.33 L2019.62 1354.81 L2024.51 1356.27 L2029.40 1357.72 L2034.29 1359.15 L2039.18 1360.56 L2044.08 1361.96 L2048.97 1363.34 L2053.86 1364.70 L2058.75 1366.05 L2063.64 1367.38 L2068.54 1368.70 L2073.43 1370.00 L2078.32 1371.29 L2083.21 1372.56 L2088.10 1373.81 L2093.00 1375.05 L2097.89 1376.28 L2102.78 1377.50 L2107.67 1378.69 L2112.56 1379.88 L2117.46 1381.05 L2122.35 1382.21 L2127.24 1383.35 L2132.13 1384.48 L2137.02 1385.60 L2141.92 1386.70 L2146.81 1387.80 L2151.70 1388.87 L2156.59 1389.94 L2161.48 1390.99 L2166.38 1392.04 L2171.27 1393.06 L2176.16 1394.08 L2181.05 1395.09 L2185.94 1396.08 L2190.84 1397.06 L2195.73 1398.03 L2200.62 1398.99 L2205.51 1399.94 L2210.40 1400.88 L2215.30 1401.80 L2220.19 1402.72 L2225.08 1403.62 L2229.97 1404.52 L2234.86 1405.40 L2239.76 1406.27 L2244.65 1407.14 L2249.54 1407.99 L2254.43 1408.83 L2259.32 1409.66 L2264.22 1410.49 L2269.11 1411.30 L2274.00 1412.11"/>
<path stroke="#ff0000" stroke-dasharray="45.60 46.76" d="M317.20 1484.60 L322.09 1461.56 L326.98 1438.53 L331.88 1415.51 L336.77 1392.52 L341.66 1369.55 L346.55 1346.63 L351.44 1323.76 L356.34 1300.94 L361.23 1278.18 L366.12 1255.50 L371.01 1232.89 L375.90 1210.37 L380.80 1187.94 L385.69 1165.62 L390.58 1143.40 L395.47 1121.30 L400.36 1099.32 L405.26 1077.48 L410.15 1055.77 L415.04 1034.20 L419.93 1012.79 L424.82 991.53 L429.72 970.44 L434.61 949.52 L439.50 928.78 L444.39 908.23 L449.28 887.86 L454.18 867.69 L459.07 847.73 L463.96 827.97 L468.85 808.42 L473.74 789.10 L478.64 770.00 L483.53 751.13 L488.42 732.49 L493.31 714.10 L498.20 695.94 L503.10 678.04 L507.99 660.40 L512.88 643.01 L517.77 625.88 L522.66 609.02 L527.56 592.42 L532.45 576.11 L537.34 560.07 L542.23 544.30 L547.12 528.83 L552.02 513.63 L556.91 498.73 L561.80 484.12 L566.69 469.80 L571.58 455.78 L576.48 442.06 L581.37 428.64 L586.26 415.51 L591.15 402.70 L596.04 390.18 L600.94 377.98 L605.83 366.08 L610.72 354.49 L615.61 343.21 L620.50 332.23 L625.40 321.57 L630.29 311.22 L635.18 301.17 L640.07 291.44 L644.96 282.02 L649.86 272.91 L654.75 264.10 L659.64 255.61 L664.53 247.42 L669.42 239.54 L674.32 231.96 L679.21 224.69 L684.10 217.73 L688.99 211.06 L693.88 204.70 L698.78 198.64 L703.67 192.87 L708.56 187.39 L713.45 182.21 L718.34 177.33 L723.24 172.73 L728.13 168.41 L733.02 164.38 L737.91 160.63 L742.80 157.16 L747.70 153.97 L752.59 151.05 L757.48 148.40 L762.37 146.02 L767.26 143.90 L772.16 142.05 L777.05 140.45 L781.94 139.10 L786.83 138.01 L791.72 137.17 L796.62 136.57 L801.51 136.22 L806.40 136.10 L811.29 136.22 L816.18 136.56 L821.08 137.14 L825.97 137.94 L830.86 138.96 L835.75 140.19 L840.64 141.64 L845.54 143.29 L850.43 145.15 L855.32 147.22 L860.21 149.48 L865.10 151.93 L870.00 154.57 L874.89 157.40 L879.78 160.41 L884.67 163.59 L889.56 166.95 L894.46 170.49 L899.35 174.18 L904.24 178.04 L909.13 182.06 L914.02 186.23 L918.92 190.56 L923.81 195.03 L928.70 199.64 L933.59 204.40 L938.48 209.29 L943.38 214.31 L948.27 219.46 L953.16 224.73 L958.05 230.12 L962.94 235.64 L967.84 241.26 L972.73 247.00 L977.62 252.84 L982.51 258.78 L987.40 264.82 L992.30 270.96 L997.19 277.20 L1002.08 283.52 L1006.97 289.93 L1011.86 296.41 L1016.76 302.98 L1021.65 309.63 L1026.54 316.35 L1031.43 323.13 L1036.32 329.99 L1041.22 336.90 L1046.11 343.88 L1051.00 350.92 L1055.89 358.01 L1060.78 365.15 L1065.68 372.34 L1070.57 379.58 L1075.46 386.86 L1080.35 394.18 L1085.24 401.54 L1090.14 408.94 L1095.03 416.36 L1099.92 423.82 L1104.81 431.31 L1109.70 438.82 L1114.60 446.36 L1119.49 453.91 L1124.38 461.49 L1129.27 469.08 L1134.16 476.69 L1139.06 484.30 L1143.95 491.93 L1148.84 499.57 L1153.73 507.21 L1158.62 514.86 L1163.52 522.50 L1168.41 530.15 L1173.30 537.80 L1178.19 545.45 L1183.08 553.09 L1187.98 560.72 L1192.87 568.34 L1197.76 575.96 L1202.65 583.56 L1207.54 591.15 L1212.44 598.73 L1217.33 606.29 L1222.22 613.83 L1227.11 621.36 L1232.00 628.86 L1236.90 636.35 L1241.79 643.81 L1246.68 651.25 L1251.57 658.66 L1256.46 666.05 L1261.36 673.41 L1266.25 680.74 L1271.14 688.05 L1276.03 695.32 L1280.92 702.57 L1285.82 709.78 L1290.71 716.96 L1295.60 724.11 L1300.49 731.22 L1305.38 738.30 L1310.28 745.34 L1315.17 752.34 L1320.06 759.31 L1324.95 766.24 L1329.84 773.13 L1334.74 779.99 L1339.63 786.80 L1344.52 793.57 L1349.41 800.31 L1354.30 807.00 L1359.20 813.65 L1364.09 820.26 L1368.98 826.82 L1373.87 833.35 L1378.76 839.83 L1383.66 846.26 L1388.55 852.66 L1393.44 859.01 L1398.33 865.31 L1403.22 871.57 L1408.12 877.78 L1413.01 883.95 L1417.90 890.08 L1422.79 896.16 L1427.68 902.19 L1432.58 908.18 L1437.47 914.12 L1442.36 920.01 L1447.25 925.86 L1452.14 931.66 L1457.04 937.42 L1461.93 943.13 L1466.82 948.79 L1471.71 954.41 L1476.60 959.98 L1481.50 965.50 L1486.39 970.98 L1491.28 976.41 L1496.17 981.79 L1501.06 987.13 L1505.96 992.42 L1510.85 997.67 L1515.74 1002.87 L1520.63 1008.02 L1525.52 1013.13 L1530.42 1018.19 L1535.31 1023.20 L1540.20 1028.17 L1545.09 1033.10 L1549.98 1037.97 L1554.88 1042.81 L1559.77 1047.60 L1564.66 1052.34 L1569.55 1057.04 L1574.44 1061.70 L1579.34 1066.31 L1584.23 1070.87 L1589.12 1075.40 L1594.01 1079.88 L1598.90 1084.31 L1603.80 1088.71 L1608.69 1093.06 L1613.58 1097.36 L1618.47 1101.63 L1623.36 1105.85 L1628.26 1110.03 L1633.15 1114.17 L1638.04 1118.27 L1642.93 1122.32 L1647.82 1126.34 L1652.72 1130.31 L1657.61 1134.25 L1662.50 1138.14 L1667.39 1141.99 L1672.28 1145.81 L1677.18 1149.58 L1682.07 1153.32 L1686.96 1157.01 L1691.85 1160.67 L1696.74 1164.29 L1701.64 1167.88 L1706.53 1171.42 L1711.42 1174.93 L1716.31 1178.40 L1721.20 1181.83 L1726.10 1185.23 L1730.99 1188.59 L1735.88 1191.91 L1740.77 1195.20 L1745.66 1198.46 L1750.56 1201.67 L1755.45 1204.86 L1760.34 1208.01 L1765.23 1211.12 L1770.12 1214.21 L1775.02 1217.25 L1779.91 1220.27 L1784.80 1223.25 L1789.69 1226.20 L1794.58 1229.12 L1799.48 1232.00 L1804.37 1234.86 L1809.26 1237.68 L1814.15 1240.47 L1819.04 1243.23 L1823.94 1245.96 L1828.83 1248.66 L1833.72 1251.32 L1838.61 1253.96 L1843.50 1256.57 L1848.40 1259.15 L1853.29 1261.70 L1858.18 1264.23 L1863.07 1266.72 L1867.96 1269.19 L1872.86 1271.63 L1877.75 1274.04 L1882.64 1276.42 L1887.53 1278.78 L1892.42 1281.11 L1897.32 1283.41 L1902.21 1285.69 L1907.10 1287.94 L1911.99 1290.17 L1916.88 1292.37 L1921.78 1294.54 L1926.67 1296.70 L1931.56 1298.82 L1936.45 1300.92 L1941.34 1303.00 L1946.24 1305.06 L1951.13 1307.09 L1956.02 1309.09 L1960.91 1311.08 L1965.80 1313.04 L1970.70 1314.98 L1975.59 1316.90 L1980.48 1318.79 L1985.37 1320.66 L1990.26 1322.51 L1995.16 1324.34 L2000.05 1326.15 L2004.94 1327.94 L2009.83 1329.71 L2014.72 1331.45 L2019.62 1333.18 L2024.51 1334.89 L2029.40 1336.57 L2034.29 1338.24 L2039.18 1339.89 L2044.08 1341.52 L2048.97 1343.13 L2053.86 1344.72 L2058.75 1346.29 L2063.64 1347.84 L2068.54 1349.38 L2073.43 1350.90 L2078.32 1352.40 L2083.21 1353.88 L2088.10 1355.35 L2093.00 1356.80 L2097.89 1358.23 L2102.78 1359.64 L2107.67 1361.04 L2112.56 1362.43 L2117.46 1363.79 L2122.35 1365.14 L2127.24 1366.48 L2132.13 1367.80 L2137.02 1369.10 L2141.92 1370.39 L2146.81 1371.66 L2151.70 1372.92 L2156.59 1374.16 L2161.48 1375.39 L2166.38 1376.61 L2171.27 1377.81 L2176.16 1379.00 L2181.05 1380.17 L2185.94 1381.33 L2190.84 1382.47 L2195.73 1383.60 L2200.62 1384.72 L2205.51 1385.83 L2210.40 1386.92 L2215.30 1388.00 L2220.19 1389.07 L2225.08 1390.13 L2229.97 1391.17 L2234.86 1392.20 L2239.76 1393.22 L2244.65 1394.22 L2249.54 1395.22 L2254.43 1396.20 L2259.32 1397.18 L2264.22 1398.14 L2269.11 1399.09 L2274.00 1400.02"/>
</g>
<g fill="#202020">
<text transform="translate(316.60 1598.90) scale(1.0000 1.0400)" font-size="84.50px" text-anchor="middle">0</text>
<text transform="translate(805.30 1598.90) scale(1.0000 1.0400)" font-size="84.50px" text-anchor="middle">1</text>
<text transform="translate(1295.20 1598.90) scale(1.0000 1.0400)" font-size="84.50px" text-anchor="middle">2</text>
<text transform="translate(1785.00 1598.90) scale(1.0000 1.0400)" font-size="84.50px" text-anchor="middle">3</text>
<text transform="translate(2272.20 1598.90) scale(1.0000 1.0400)" font-size="84.50px" text-anchor="middle">4</text>
<text transform="translate(287.20 1517.80) scale(1.0000 1.0400)" font-size="84.50px" text-anchor="end">0</text>
<text transform="translate(287.20 1111.85) scale(1.0000 1.0400)" font-size="84.50px" text-anchor="end">0.5</text>
<text transform="translate(287.20 707.90) scale(1.0000 1.0400)" font-size="84.50px" text-anchor="end">1</text>
<text transform="translate(287.20 303.70) scale(1.0000 1.0400)" font-size="84.50px" text-anchor="end">1.5</text>
</g>
<g fill="#202020">
<g transform="translate(1186.70 1718.60)">
<text transform="translate(-0.77 0.00) scale(1.0200 1.0400)" font-size="92.60px" xml:space="preserve">M</text>
<text transform="translate(77.14 45.90) scale(1.0000 0.9650)" font-size="74.40px" xml:space="preserve">inlet</text>
</g>
<g transform="translate(87.40 1021.20) rotate(-90)">
<text transform="translate(0.00 0.00) scale(1.0000 1.0400)" font-size="92.60px" xml:space="preserve">A</text>
<text transform="translate(62.76 45.90) scale(1.0000 0.9650)" font-size="74.40px" xml:space="preserve">throat</text>
<text transform="translate(253.01 0.00) scale(1.0000 1.0250)" font-size="92.60px" xml:space="preserve"> / </text>
<text transform="translate(330.20 0.00) scale(1.0000 1.0400)" font-size="92.60px" xml:space="preserve">A</text>
<text transform="translate(391.96 45.90) scale(1.0000 0.9650)" font-size="74.40px" xml:space="preserve">inlet</text>
</g>
</g>
<g fill="#000000">
<text transform="translate(823.40 121.80) scale(1.0000 1.0700)" font-size="58.50px" text-anchor="start">0.4</text>
<text transform="translate(823.40 314.10) scale(1.0000 1.0700)" font-size="58.50px" text-anchor="start">0.3</text>
<text transform="translate(823.40 458.40) scale(1.0000 1.0700)" font-size="58.50px" text-anchor="start">0.2</text>
<text transform="translate(823.40 570.70) scale(1.0000 1.0700)" font-size="58.50px" text-anchor="start">0.1</text>
</g>
<rect x="1459.00" y="75.10" width="766.50" height="337.60" fill="#ffffff" stroke="#202020" stroke-width="7.40"/>
<rect x="1477.5" y="124.0" width="181.1" height="11.8" fill="#000000"/>
<rect x="1477.5" y="220.6" width="181.1" height="12.0" fill="#0000ff"/>
<rect x="1477.4" y="334.4" width="47.4" height="12.2" fill="#ff0000"/>
<rect x="1571.0" y="334.4" width="63.4" height="12.2" fill="#ff0000"/>
<g fill="#000000">
<text transform="translate(1671.60 160.80) scale(1.0000 1.0120)" font-size="75.80px" text-anchor="start">Isentropic Limit</text>
<text transform="translate(1671.90 255.70) scale(1.0000 1.0120)" font-size="75.80px" text-anchor="start">Kantrowitz Limit</text>
<text transform="translate(1672.0 352.6) scale(1.19 1)" font-size="74.8px" style="font-family:'DejaVu Serif','Liberation Serif',serif">Δ</text>
<g transform="translate(1735.60 352.60)">
<text transform="translate(-1.26 0.00) scale(1.0500 1.0400)" font-size="75.80px" xml:space="preserve">P</text>
<text transform="translate(52.56 37.90) scale(1.0000 1.0300)" font-size="60.00px" xml:space="preserve">0</text>
<text transform="translate(86.53 0.00) scale(1.0000 1.0400)" font-size="75.80px" xml:space="preserve"> / </text>
<text transform="translate(148.44 0.00) scale(1.0500 1.0400)" font-size="75.80px" xml:space="preserve">P</text>
<text transform="translate(200.86 37.90) scale(1.0000 0.9700)" font-size="60.00px" xml:space="preserve">0,inlet</text>
</g>
</g>
</svg>
</body></html>
